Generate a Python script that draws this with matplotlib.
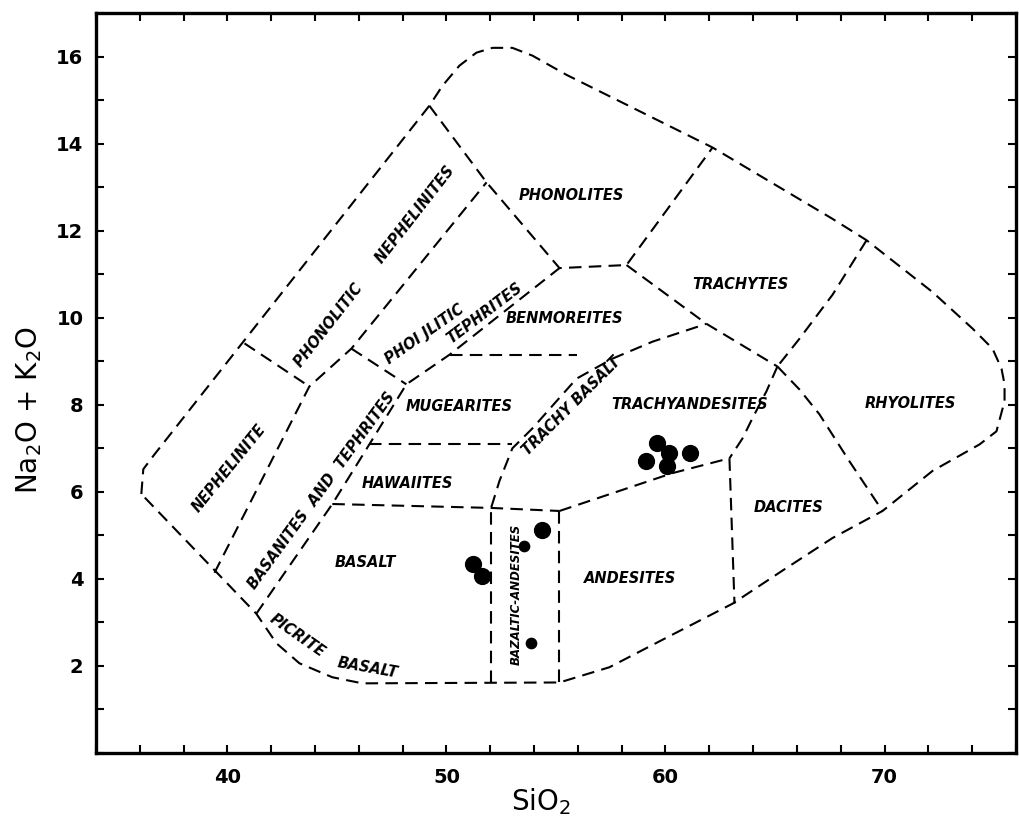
#!/usr/bin/env python3
"""Total alkali - silica (TAS) classification diagram with analysed samples."""

import matplotlib
matplotlib.use("Agg")
import matplotlib.pyplot as plt
from matplotlib.ticker import MultipleLocator, FixedLocator


# outer limit of the classified field (SiO2 wt%, Na2O+K2O wt%)
OUTER_SIO2 = [36.07, 36.16, 36.67, 49.22, 49.82, 50.59, 51.37, 52.10, 53.01, 53.93,
              55.48, 62.15, 67.63, 69.18, 72.19, 74.02, 74.93, 75.34, 75.48, 75.48,
              75.11, 74.34, 72.19, 69.91, 67.63, 65.34, 63.06, 60.05, 57.44, 55.16,
              46.16, 44.79, 43.29, 42.24, 41.32, 36.07]
OUTER_ALK = [5.95, 6.52, 6.86, 14.87, 15.33, 15.79, 16.09, 16.20, 16.20, 16.02,
             15.58, 13.91, 12.27, 11.78, 10.59, 9.75, 9.29, 8.83, 8.47, 8.08,
             7.39, 7.09, 6.48, 5.56, 4.94, 4.19, 3.43, 2.65, 1.97, 1.62,
             1.60, 1.74, 2.06, 2.52, 3.20, 5.95]

# internal field boundaries
NEPH_SIO2 = [39.41, 43.74, 45.66, 51.83]
NEPH_ALK = [4.14, 8.42, 9.29, 13.11]
PHNEPH_SIO2 = [40.78, 43.74]
PHNEPH_ALK = [9.41, 8.42]
PHTEPH_SIO2 = [45.66, 48.17]
PHTEPH_ALK = [9.29, 8.47]
PHONOLITE_SIO2 = [49.22, 51.83, 55.16, 58.22, 62.15]
PHONOLITE_ALK = [14.87, 13.11, 11.14, 11.21, 13.91]
BASANITE_SIO2 = [41.32, 44.79, 46.48, 48.17, 50.14, 55.16]
BASANITE_ALK = [3.20, 5.72, 7.09, 8.47, 9.15, 11.14]
BASALT_TOP_SIO2 = [44.79, 52.05, 55.16]
BASALT_TOP_ALK = [5.72, 5.63, 5.56]
HAWAIITE_TOP_SIO2 = [46.48, 53.01]
HAWAIITE_TOP_ALK = [7.09, 7.09]
MUGEARITE_TOP_SIO2 = [50.14, 55.94]
MUGEARITE_TOP_ALK = [9.15, 9.15]
TRACHYBASALT_SIO2 = [52.05, 52.42, 53.01, 53.93, 55.02, 55.94, 57.58, 59.41, 61.87]
TRACHYBASALT_ALK = [5.65, 6.25, 7.00, 7.46, 8.08, 8.60, 9.06, 9.45, 9.86]
TRACHYTE_SIO2 = [58.22, 61.87, 65.11]
TRACHYTE_ALK = [11.21, 9.86, 8.88]
RHYOLITE_SIO2 = [69.18, 67.63, 66.12, 65.11]
RHYOLITE_ALK = [11.78, 10.53, 9.52, 8.88]
TRACHYANDESITE_SIO2 = [65.11, 64.61, 63.97, 63.52, 62.92]
TRACHYANDESITE_ALK = [8.88, 8.31, 7.69, 7.23, 6.77]
DACITE_RHY_SIO2 = [65.11, 66.12, 67.03, 68.40, 69.91]
DACITE_RHY_ALK = [8.88, 8.35, 7.78, 6.70, 5.56]
ANDESITE_TOP_SIO2 = [55.16, 60.32, 62.92]
ANDESITE_TOP_ALK = [5.56, 6.43, 6.77]
DACITE_LEFT_SIO2 = [62.92, 63.15]
DACITE_LEFT_ALK = [6.77, 3.43]
BAS_AND_LEFT_SIO2 = [52.05, 52.05]
BAS_AND_LEFT_ALK = [1.60, 5.63]
BAS_AND_RIGHT_SIO2 = [55.16, 55.16]
BAS_AND_RIGHT_ALK = [1.62, 5.56]

BOUNDARIES = [
    (NEPH_SIO2, NEPH_ALK), (PHNEPH_SIO2, PHNEPH_ALK), (PHTEPH_SIO2, PHTEPH_ALK),
    (PHONOLITE_SIO2, PHONOLITE_ALK), (BASANITE_SIO2, BASANITE_ALK),
    (BASALT_TOP_SIO2, BASALT_TOP_ALK), (HAWAIITE_TOP_SIO2, HAWAIITE_TOP_ALK),
    (MUGEARITE_TOP_SIO2, MUGEARITE_TOP_ALK), (TRACHYBASALT_SIO2, TRACHYBASALT_ALK),
    (TRACHYTE_SIO2, TRACHYTE_ALK), (RHYOLITE_SIO2, RHYOLITE_ALK),
    (TRACHYANDESITE_SIO2, TRACHYANDESITE_ALK), (DACITE_RHY_SIO2, DACITE_RHY_ALK),
    (ANDESITE_TOP_SIO2, ANDESITE_TOP_ALK), (DACITE_LEFT_SIO2, DACITE_LEFT_ALK),
    (BAS_AND_LEFT_SIO2, BAS_AND_LEFT_ALK), (BAS_AND_RIGHT_SIO2, BAS_AND_RIGHT_ALK),
]

# analysed samples
SAMPLE_SIO2 = [51.19, 51.64, 54.38, 59.59, 60.18, 59.13, 60.05, 61.10]
SAMPLE_ALK = [4.35, 4.07, 5.13, 7.12, 6.89, 6.70, 6.59, 6.89]
SMALL_SIO2 = [53.56, 53.88]
SMALL_ALK = [4.76, 2.52]

# field names: text, SiO2, alkali, rotation
FIELD_LABELS = [
    ("PHONOLITES", 55.7, 12.81, 0),
    ("TRACHYTES", 63.4, 10.76, 0),
    ("BENMOREITES", 55.4, 9.98, 0),
    ("RHYOLITES", 71.2, 8.03, 0),
    ("TRACHYANDESITES", 61.1, 8.01, 0),
    ("MUGEARITES", 50.6, 7.96, 0),
    ("HAWAIITES", 48.2, 6.20, 0),
    ("BASALT", 46.3, 4.37, 0),
    ("ANDESITES", 58.4, 4.00, 0),
    ("DACITES", 65.6, 5.63, 0),
    ("BAZALTIC-ANDESITES", 53.2, 3.64, 90),
    ("NEPHELINITE", 40.1, 6.54, 51),
    ("BASANITES  AND  TEPHRITES", 44.3, 6.02, 54),
    ("PHONOLITIC      NEPHELINITES", 46.7, 11.17, 52),
    ("PHOI JLITIC", 49.0, 9.61, 35),
    ("TEPHRITES", 51.75, 10.11, 37),
    ("TRACHY BASALT", 55.7, 7.96, 45),
    ("PICRITE", 43.2, 2.70, -35),
    ("BASALT", 46.4, 1.95, -10),
]

X_TICKS = [40, 50, 60, 70]
Y_TICKS = [2, 4, 6, 8, 10, 12, 14, 16]


def main():
    fig = plt.figure(figsize=(10.19, 8.19), dpi=100)
    ax = fig.add_axes([0.0942, 0.0806, 0.9028, 0.9035])

    dash = (0, (6, 3.5))
    ax.plot(OUTER_SIO2, OUTER_ALK, color="black", lw=1.5, linestyle=dash)
    for sio2, alk in BOUNDARIES:
        ax.plot(sio2, alk, color="black", lw=1.5, linestyle=dash)

    ax.scatter(SAMPLE_SIO2, SAMPLE_ALK, s=130, color="black", zorder=3)
    ax.scatter(SMALL_SIO2, SMALL_ALK, s=55, color="black", zorder=3)

    for text, x, y, rot in FIELD_LABELS:
        # the vertical label has to fit inside the narrow basaltic-andesite strip
        size = 8.5 if rot == 90 else 10.5
        ax.text(x, y, text, rotation=rot, ha="center", va="center",
                fontsize=size, fontweight="bold", fontstyle="italic",
                rotation_mode="anchor")

    ax.set_xlim(34, 76)
    ax.set_ylim(0, 17)
    ax.xaxis.set_major_locator(FixedLocator(X_TICKS))
    ax.xaxis.set_minor_locator(MultipleLocator(2))
    ax.yaxis.set_major_locator(FixedLocator(Y_TICKS))
    ax.yaxis.set_minor_locator(MultipleLocator(1))
    ax.tick_params(which="both", direction="in", top=True, right=True,
                   length=6, width=1.5)
    ax.tick_params(axis="x", which="major", pad=11, labelsize=14)
    ax.tick_params(axis="y", which="major", pad=9, labelsize=14)
    for label in ax.get_xticklabels() + ax.get_yticklabels():
        label.set_fontweight("bold")
    for spine in ax.spines.values():
        spine.set_linewidth(2.4)

    ax.set_xlabel("SiO$_2$", fontsize=20)
    ax.xaxis.set_label_coords(0.484, -0.045)
    ax.set_ylabel("Na$_2$O + K$_2$O", fontsize=20)
    ax.yaxis.set_label_coords(-0.057, 0.4635)

    fig.savefig("out.png", dpi=100)
    plt.close(fig)


if __name__ == "__main__":
    main()
